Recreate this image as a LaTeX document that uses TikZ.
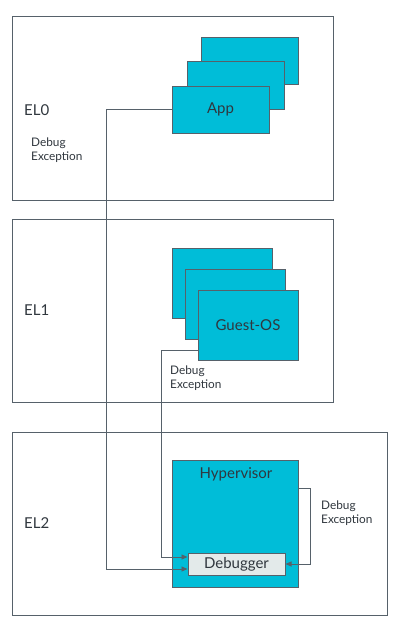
\documentclass[tikz,border=0pt]{standalone}
\usepackage{fontspec}
\setmainfont{Lato}
\usetikzlibrary{arrows.meta}
\definecolor{cy}{HTML}{00BDD8}
\definecolor{bd}{HTML}{56616A}
\definecolor{txt}{HTML}{30373E}
\definecolor{dbgfill}{HTML}{E3EAEA}
\begin{document}
\begin{tikzpicture}[x=1pt,y=-1pt,
  elbox/.style={draw=bd,line width=1pt,fill=white,inner sep=0pt},
  card/.style={draw=bd,line width=1pt,fill=cy,inner sep=0pt,minimum width=97pt,text=txt,font=\fontsize{15}{17}\selectfont},
  gcard/.style={card,minimum width=100pt,minimum height=70pt},
  ellbl/.style={anchor=west,text=txt,inner sep=0pt,font=\fontsize{15}{17}\selectfont},
  exlbl/.style={anchor=west,align=left,text=txt,inner sep=0pt,font=\fontsize{11.8}{14}\selectfont},
  conn/.style={draw=bd,line width=0.9pt},
  tip/.style={-{Triangle[length=6pt,width=5pt]}}
]
\useasboundingbox (0,0) rectangle (409,634);
% EL boxes
\node[elbox,minimum width=321pt,minimum height=183pt] (el0) at (172.5,108.5) {};
\node[elbox,minimum width=321pt,minimum height=183pt] (el1) at (172.5,310.5) {};
\node[elbox,minimum width=375pt,minimum height=183pt] (el2) at (199.5,523.5) {};
% EL labels
\node[ellbl] (l0) at (24,110) {EL0};
\node[ellbl] (l1) at (24,310) {EL1};
\node[ellbl] (l2) at (24,523) {EL2};
% App stack
\node[card,minimum height=46pt] (app3) at (249.5,61) {};
\node[card,minimum height=47pt] (app2) at (235.5,85.5) {};
\node[card,minimum height=47pt] (app1) at (220.5,109.5) {App};
% Guest stack
\node[gcard] (g3) at (222,283) {};
\node[gcard] (g2) at (235,304.5) {};
\node[gcard] (g1) at (248,325) {Guest-OS};
% Hypervisor
\node[draw=bd,line width=1pt,fill=cy,minimum width=126pt,minimum height=127pt,inner sep=0pt] (hyp) at (235,523.5) {};
\node[text=txt,inner sep=0pt,font=\fontsize{15}{17}\selectfont] (hyplbl) at (236,474) {Hypervisor};
\node[draw=bd,line width=1pt,fill=dbgfill,minimum width=97pt,minimum height=22pt,inner sep=0pt,text=txt,font=\fontsize{15}{17}\selectfont] (dbg) at (236.5,564) {Debugger};
% Debug Exception labels
\node[exlbl] (e0) at (31,150) {Debug\\Exception};
\node[exlbl] (e1) at (170,378) {Debug\\Exception};
\node[exlbl] (e2) at (321,513) {Debug\\Exception};
% connectors
\coordinate (k1) at (106,569);
\draw[conn,tip] (app1.west) -| (k1) -- (k1 -| dbg.west);
\coordinate (k2) at (161,557);
\draw[conn,tip] ([yshift=10pt]g1.south west) -| (k2) -- (k2 -| dbg.west);
\draw[conn,tip] ([yshift=35.5pt]hyp.east) -- ++(12,0) |- (dbg.east);
\end{tikzpicture}
\end{document}
